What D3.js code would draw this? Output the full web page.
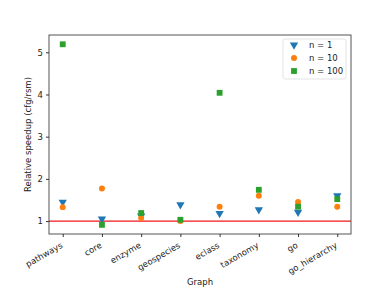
<!DOCTYPE html>
<html>
<head>
<meta charset="utf-8">
<script src="https://cdn.jsdelivr.net/npm/d3@7"></script>
<style>
  body { margin: 0; background: #fff; }
  svg { display: block; font-family: "DejaVu Sans", sans-serif; }
</style>
</head>
<body>
<div id="chart"></div>
<script>
const graphs = ['pathways', 'core', 'enzyme', 'geospecies', 'eclass', 'taxonomy', 'go', 'go_hierarchy'];
const n1 = [1.45, 1.05, 1.12, 1.39, 1.18, 1.27, 1.21, 1.60];
const n10 = [1.33, 1.77, 1.07, 1.00, 1.34, 1.60, 1.45, 1.34];
const n100 = [5.19, 0.91, 1.19, 1.03, 4.04, 1.74, 1.34, 1.52];
const yTicks = [1, 2, 3, 4, 5];
const seriesNames = ['n = 1', 'n = 10', 'n = 100'];

const width = 390, height = 293;
const margin = { top: 35, right: 39, bottom: 59, left: 49 };
const colors = ['#1f77b4', '#ff7f0e', '#2ca02c'];
const shapes = [d3.symbolTriangle, d3.symbolCircle, d3.symbolSquare];
const sizes = [30, 28, 34];

const svg = d3.select('#chart').append('svg')
  .attr('width', width)
  .attr('height', height);

const x = d3.scaleLinear()
  .domain([-0.35, graphs.length - 1 + 0.35])
  .range([margin.left, width - margin.right]);

const y = d3.scaleLinear()
  .domain([0.693, 5.41])
  .range([height - margin.bottom, margin.top]);

// red reference line at 1
svg.append('line')
  .attr('x1', margin.left).attr('x2', width - margin.right)
  .attr('y1', y(1)).attr('y2', y(1))
  .attr('stroke', '#f2161a')
  .attr('stroke-width', 1.3);

// markers
const series = [n1, n10, n100];
series.forEach((vals, s) => {
  const sym = d3.symbol().type(shapes[s]).size(sizes[s]);
  svg.append('g').selectAll('path')
    .data(vals)
    .enter()
    .append('path')
    .attr('d', sym)
    .attr('transform', (d, i) => `translate(${x(i)},${y(d)})` + (s === 0 ? ' rotate(180)' : ''))
    .attr('fill', colors[s]);
});

// axes frame
svg.append('rect')
  .attr('x', margin.left).attr('y', margin.top)
  .attr('width', width - margin.left - margin.right)
  .attr('height', height - margin.top - margin.bottom)
  .attr('fill', 'none')
  .attr('stroke', '#555')
  .attr('stroke-width', 1);

// y axis
const yAxis = svg.append('g')
  .attr('transform', `translate(${margin.left},0)`)
  .call(d3.axisLeft(y).tickValues(yTicks).tickSize(3).tickPadding(3).tickFormat(d3.format('d')));
yAxis.select('.domain').remove();
yAxis.selectAll('line').attr('stroke', '#333');
yAxis.selectAll('text').attr('font-size', 8.5).attr('fill', '#222')
  .attr('font-family', 'DejaVu Sans');

// x axis
const xAxis = svg.append('g')
  .attr('transform', `translate(0,${height - margin.bottom})`)
  .call(d3.axisBottom(x).tickValues(d3.range(graphs.length)).tickSize(3).tickFormat(i => graphs[i]));
xAxis.select('.domain').remove();
xAxis.selectAll('line').attr('stroke', '#333');
xAxis.selectAll('text')
  .attr('font-size', 8.5)
  .attr('fill', '#222')
  .attr('font-family', 'DejaVu Sans')
  .style('text-anchor', 'end')
  .attr('x', 0)
  .attr('y', 0)
  .attr('dy', null)
  .attr('transform', 'translate(0,13) rotate(-30)');

// axis titles
svg.append('text')
  .attr('x', (margin.left + width - margin.right) / 2)
  .attr('y', 285)
  .attr('text-anchor', 'middle')
  .attr('font-size', 8.5)
  .attr('fill', '#222')
  .text('Graph');

svg.append('text')
  .attr('transform', `translate(31,${(margin.top + height - margin.bottom) / 2}) rotate(-90)`)
  .attr('text-anchor', 'middle')
  .attr('font-size', 8.5)
  .attr('fill', '#222')
  .text('Relative speedup (cfg/rsm)');

// legend
const legend = svg.append('g').attr('transform', 'translate(283,39)');
legend.append('rect')
  .attr('width', 63).attr('height', 40)
  .attr('rx', 2)
  .attr('fill', '#fff')
  .attr('stroke', '#ddd')
  .attr('stroke-width', 0.8);
seriesNames.forEach((name, s) => {
  const sym = d3.symbol().type(shapes[s]).size(sizes[s]);
  const ly = 6 + s * 13;
  legend.append('path')
    .attr('d', sym)
    .attr('transform', `translate(11,${ly})` + (s === 0 ? ' rotate(180)' : ''))
    .attr('fill', colors[s]);
  legend.append('text')
    .attr('x', 26)
    .attr('y', ly + 3)
    .attr('font-size', 8.5)
    .attr('fill', '#222')
    .text(name);
});
</script>
</body>
</html>
